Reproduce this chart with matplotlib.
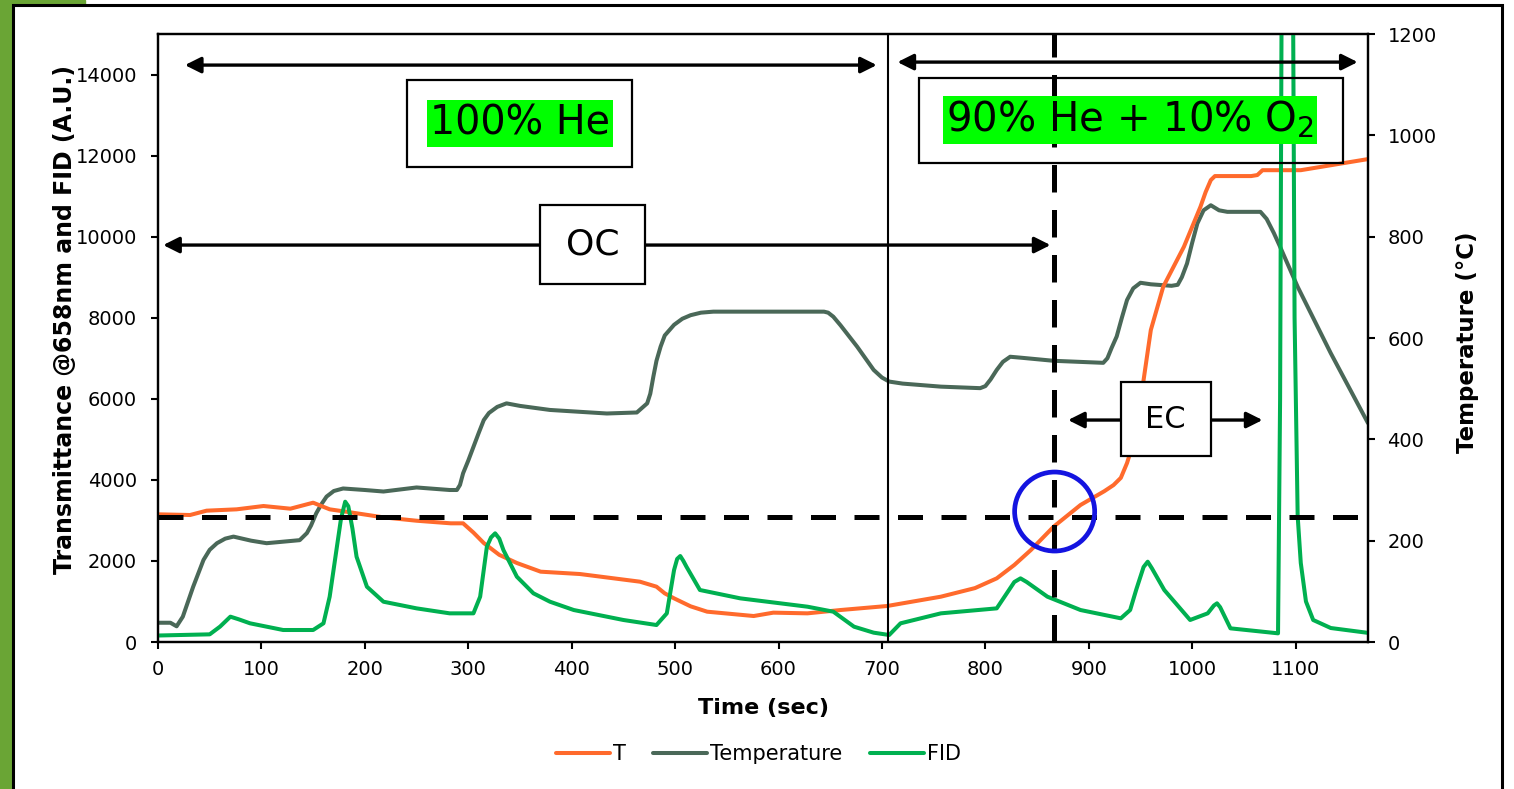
import numpy as np
import matplotlib.pyplot as plt
from matplotlib.patches import Rectangle, Ellipse

# temperature trace (deg C), right axis
temp_t = [0, 12, 18, 24, 34, 44, 50, 57, 65, 73, 90, 105, 137, 144, 148, 153, 158, 163, 170, 179,
          200, 218, 250, 282, 289, 292, 295, 300, 305, 310, 315, 320, 328, 337, 350, 379, 434, 463,
          473, 476, 479, 482, 486, 490, 499, 507, 515, 525, 537, 644, 648, 653, 660, 668, 676, 684,
          692, 700, 707, 720, 757, 795, 800, 805, 811, 817, 824, 835, 866, 914, 918, 922, 927, 932,
          937, 943, 950, 960, 980, 986, 990, 995, 1000, 1005, 1011, 1018, 1026, 1034, 1066, 1072,
          1079, 1085, 1102, 1134, 1170]
temp_v = [38, 38, 31, 50, 109, 162, 182, 195, 204, 208, 200, 195, 201, 215, 230, 254, 272, 287, 298, 303,
          300, 297, 305, 300, 300, 310, 333, 358, 385, 412, 438, 452, 464, 471, 466, 458, 451, 453,
          471, 490, 524, 555, 583, 605, 626, 638, 645, 650, 652, 652, 650, 642, 625, 604, 583, 560,
          537, 522, 514, 510, 504, 501, 505, 518, 537, 553, 563, 561, 555, 551, 560, 580, 603, 640,
          675, 698, 709, 706, 703, 705, 720, 747, 788, 826, 852, 862, 852, 849, 849, 835,
          807, 780, 701, 570, 432]

# transmittance T (A.U.), left axis
trans_t = [0, 31, 47, 76, 102, 128, 150, 166, 186, 218, 250, 283, 295, 305, 315, 330, 347, 370, 408,
           466, 482, 490, 499, 515, 531, 576, 595, 628, 660, 705, 757, 790, 811, 828, 844, 866, 892,
           915, 924, 931, 937, 947, 953, 960, 972, 992, 1008, 1013, 1018, 1022, 1057, 1063, 1068,
           1105, 1170]
trans_v = [3150, 3133, 3240, 3273, 3355, 3289, 3437, 3273, 3199, 3075, 2992, 2928, 2928, 2700, 2442,
           2150, 1949, 1735, 1677, 1488, 1365, 1200, 1077, 880, 748, 641, 724, 707, 789, 888, 1118,
           1330, 1570, 1900, 2269, 2845, 3380, 3720, 3873, 4050, 4415, 5229, 6463, 7696, 8765, 9751,
           10738, 11100, 11396, 11495, 11495, 11520, 11640, 11640, 11914]

# FID signal (A.U.), left axis
fid_t = [0, 50, 60, 70, 78, 89, 121, 150, 160, 166, 173, 177, 181, 184, 188, 192, 202, 218, 250, 282,
         305, 311.5, 318, 322, 326, 330, 334, 347, 363, 379, 402, 450, 482, 492, 499, 502, 505, 508,
         511, 524, 563, 628, 653, 673, 692, 707, 718, 757, 811, 822, 828, 834, 840, 860, 892, 931,
         940, 946, 953, 957, 961, 973, 998, 1015, 1021, 1024, 1027, 1037, 1083, 1085, 1086.5, 1092,
         1097.5, 1099, 1102, 1105, 1110, 1117, 1134, 1171]
fid_v = [160, 189, 380, 625, 560, 461, 296, 296, 461, 1118, 2351, 3050, 3461, 3350, 2800, 2104, 1364,
         994, 830, 707, 707, 1118, 2351, 2580, 2681, 2550, 2269, 1611, 1201, 994, 789, 543, 419, 707,
         1776, 2050, 2121, 2000, 1857, 1283, 1077, 871, 748, 378, 230, 173, 461, 707, 830, 1250,
         1480, 1570, 1480, 1118, 789, 584, 789, 1300, 1850, 1981, 1820, 1283, 543, 707, 900, 954,
         860, 337, 214, 6000, 16000, 22000, 16000, 8000, 3100, 1950, 1000, 543, 345, 222]

x_ticks = list(range(0, 1101, 100))
y_ticks = list(range(0, 14001, 2000))
y2_ticks = list(range(0, 1201, 200))

t_switch = 706      # gas switch He -> He/O2
t_split = 866       # OC/EC split
t_ref = 3080        # initial transmittance level

c_T = '#ff6a2c'
c_temp = '#4a6858'
c_fid = '#00b050'

fig = plt.figure(figsize=(15.14, 7.89), dpi=100)

# outer frame with green strip
fig.patches.append(Rectangle((0, 0), 12 / 1514, 1, transform=fig.transFigure,
                             color='#6aa535', zorder=0))
fig.patches.append(Rectangle((0, 1 - 4 / 789), 85 / 1514, 4 / 789, transform=fig.transFigure,
                             color='#6aa535', zorder=0))
fig.patches.append(Rectangle((13 / 1514, -0.02), (1502 - 13) / 1514, 1.02 - 5 / 789,
                             transform=fig.transFigure, fill=False, lw=2.2, ec='k', zorder=1))

ax = fig.add_axes([158 / 1514, 1 - 642 / 789, 1210 / 1514, 608 / 789])
ax2 = ax.twinx()
ax.set_zorder(ax2.get_zorder() + 1)
ax.patch.set_visible(False)

style = dict(lw=2.9, solid_joinstyle='round', solid_capstyle='round')
ax2.plot(temp_t, temp_v, color=c_temp, label='Temperature', **style)
ax.plot(trans_t, trans_v, color=c_T, label='T', **style)
ax.plot(fid_t, fid_v, color=c_fid, label='FID', **style)

ax.set_xlim(0, 1170)
ax.set_ylim(0, 15000)
ax2.set_ylim(0, 1200)
ax.set_xticks(x_ticks)
ax.set_yticks(y_ticks)
ax2.set_yticks(y2_ticks)

for a in (ax, ax2):
    for s in a.spines.values():
        s.set_linewidth(1.6)
    a.tick_params(length=5, width=1.5, labelsize=14, colors='k')
ax.tick_params(axis='y', pad=10)
ax.tick_params(axis='x', pad=8)
ax2.tick_params(axis='y', pad=9)

ax.text(-0.077, 0.531, 'Transmittance @658nm and FID (A.U.)', transform=ax.transAxes,
        rotation=90, ha='center', va='center', fontsize=17, fontweight='bold')
ax.text(1.0826, 0.493, 'Temperature (°C)', transform=ax.transAxes,
        rotation=90, ha='center', va='center', fontsize=16.5, fontweight='bold')
ax.text(0.5, -0.1086, 'Time (sec)', transform=ax.transAxes,
        ha='center', va='center', fontsize=16, fontweight='bold')

# reference lines
ax.axvline(t_switch, color='k', lw=1.5, zorder=4)
ax.axvline(t_split, color='k', lw=3.6, ls=(0, (5.5, 3.5)), zorder=4)
ax.plot([0, 1160], [t_ref, t_ref], color='k', lw=3.6, ls=(0, (5, 3.7)), zorder=4)

# arrows
arr2 = dict(arrowstyle='<|-|>', lw=2.4, color='k', mutation_scale=24, shrinkA=0, shrinkB=0)
arr1 = dict(arrowstyle='-|>', lw=2.4, color='k', mutation_scale=24, shrinkA=0, shrinkB=0)
ax.annotate('', xy=(695, 14233), xytext=(26, 14233), arrowprops=arr2, zorder=5)
ax.annotate('', xy=(1160, 14307), xytext=(715, 14307), arrowprops=arr2, zorder=5)
ax.annotate('', xy=(863, 9793), xytext=(5, 9793), arrowprops=arr2, zorder=5)
ax.annotate('', xy=(880, 5476), xytext=(931, 5476), arrowprops=arr1, zorder=5)
ax.annotate('', xy=(1068, 5476), xytext=(1018, 5476), arrowprops=arr1, zorder=5)

# label boxes
ax.add_patch(Rectangle((241, 11717), 217.6, 2146, fill=False, ec='k', lw=1.6, zorder=6))
ax.add_patch(Rectangle((736, 11815), 409.5, 2097, fill=False, ec='k', lw=1.6, zorder=6))
ax.add_patch(Rectangle((369.6, 8831), 101.4, 1948, fc='white', ec='k', lw=1.6, zorder=6))
ax.add_patch(Rectangle((930.7, 4588), 87.1, 1825, fc='white', ec='k', lw=1.6, zorder=6))

hl = dict(boxstyle='square,pad=0.08', fc='#00ff00', ec='none')
ax.text(350, 12790, '100% He', ha='center', va='center', fontsize=28.5, bbox=hl, zorder=7)
ax.text(940, 12876, '90% He + 10% O$_2$', ha='center', va='center', fontsize=29, bbox=hl, zorder=7)
ax.text(420, 9817, 'OC', ha='center', va='center', fontsize=26, zorder=7)
ax.text(974, 5500, 'EC', ha='center', va='center', fontsize=22, zorder=7)

# highlight circle
ax.add_patch(Ellipse((867, 3219), 77.4, 1949, fill=False, ec='#1414e0', lw=3.4, zorder=8))

h1, l1 = ax.get_legend_handles_labels()
h2, l2 = ax2.get_legend_handles_labels()
handles = [h1[0], h2[0], h1[1]]
labels = [l1[0], l2[0], l1[1]]
fig.legend(handles, labels, loc='center', bbox_to_anchor=(0.501, 0.0444), ncol=3,
           frameon=False, fontsize=15, handlelength=2.6, handletextpad=0.15, columnspacing=1.3)

fig.savefig('out.png', dpi=100)
